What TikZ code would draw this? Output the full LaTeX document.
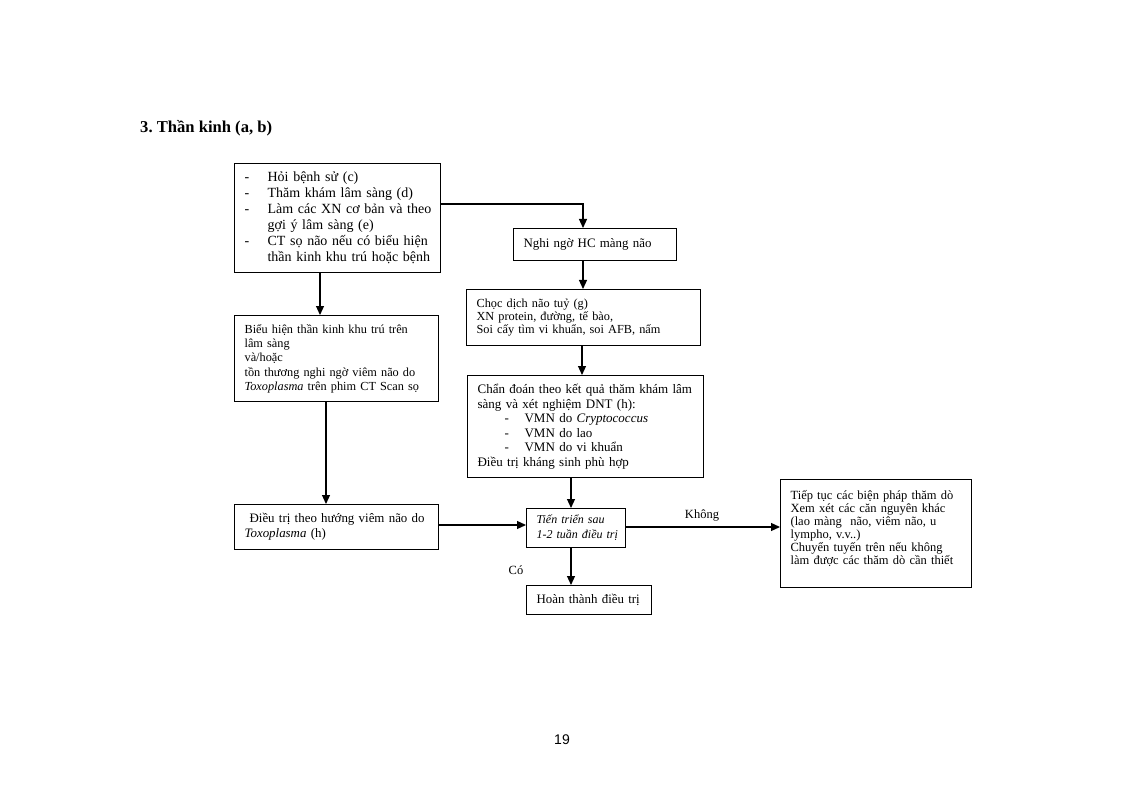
\documentclass[tikz,border=0pt]{standalone}
\usepackage{fontspec}
\setmainfont{Liberation Serif}
\newfontfamily\pagenumfont{Liberation Sans}
\usetikzlibrary{arrows.meta,calc}
\frenchspacing
\begin{document}
\begin{tikzpicture}[x=1pt,y=-1pt,
  box/.style={draw, line width=1.2pt, anchor=north west, inner xsep=10pt, inner ysep=0pt, align=left},
  arr/.style={line width=1.2pt, -{Triangle[length=9pt,width=8pt]}},
  lbl/.style={inner sep=0pt, font=\fontsize{12.5}{14}\selectfont}]
\useasboundingbox (0,0) rectangle (1124,794);
\fill[white] (0,0) rectangle (1124,794);

\node[anchor=west, inner sep=0pt, font=\bfseries\fontsize{16.6}{19}\selectfont] (title) at (140,128) {3. Thần kinh (a, b)};

\node[box, text width=186pt, minimum height=109pt, font=\fontsize{14}{16}\selectfont] (A) at (234,163)
{\mbox{\makebox[23pt][l]{-}Hỏi bệnh sử (c)}\\
 \mbox{\makebox[23pt][l]{-}Thăm khám lâm sàng (d)}\\
 \mbox{\makebox[23pt][l]{-}Làm các XN cơ bản và theo}\\
 \mbox{\hspace*{23pt}gợi ý lâm sàng (e)}\\
 \mbox{\makebox[23pt][l]{-}CT sọ não nếu có biểu hiện}\\
 \mbox{\hspace*{23pt}thần kinh khu trú hoặc bệnh}};

\node[box, text width=143pt, minimum height=32pt, font=\fontsize{12.9}{15}\selectfont] (B) at (513,228)
{\mbox{Nghi ngờ HC màng não}};

\node[box, text width=214pt, minimum height=56pt, font=\fontsize{12.3}{13}\selectfont] (C) at (466,289)
{\mbox{Chọc dịch não tuỷ (g)}\\
 \mbox{XN protein, đường, tế bào,}\\
 \mbox{Soi cấy tìm vi khuẩn, soi AFB, nấm}};

\node[box, text width=216pt, minimum height=102pt, font=\fontsize{13}{14.6}\selectfont] (D) at (467,375)
{\mbox{Chẩn đoán theo kết quả thăm khám lâm}\\
 \mbox{sàng và xét nghiệm DNT (h):}\\
 \mbox{\hspace*{27pt}\makebox[20pt][l]{-}VMN do \textit{Cryptococcus}}\\
 \mbox{\hspace*{27pt}\makebox[20pt][l]{-}VMN do lao}\\
 \mbox{\hspace*{27pt}\makebox[20pt][l]{-}VMN do vi khuẩn}\\
 \mbox{Điều trị kháng sinh phù hợp}};

\node[box, text width=184pt, minimum height=86pt, font=\fontsize{12.3}{14.3}\selectfont] (I) at (234,315)
{\mbox{Biểu hiện thần kinh khu trú trên}\\
 \mbox{lâm sàng}\\
 \mbox{và/hoặc}\\
 \mbox{tồn thương nghi ngờ viêm não do}\\
 \mbox{\textit{Toxoplasma} trên phim CT Scan sọ}};

\node[box, text width=184pt, minimum height=45pt, font=\fontsize{12.9}{15}\selectfont] (G) at (234,504)
{\mbox{\hspace*{5pt}Điều trị theo hướng viêm não do}\\
 \mbox{\textit{Toxoplasma} (h)}};

\node[box, text width=79pt, minimum height=39pt, font=\itshape\fontsize{12}{15}\selectfont] (E) at (526,508)
{\mbox{Tiến triển sau}\\
 \mbox{1-2 tuần điều trị}};

\node[box, text width=105pt, minimum height=29pt, font=\fontsize{12.9}{15}\selectfont] (F) at (526,585)
{\mbox{Hoàn thành điều trị}};

\node[box, text width=171pt, minimum height=108pt, font=\fontsize{12.5}{13}\selectfont] (H) at (780,479)
{\mbox{Tiếp tục các biện pháp thăm dò}\\
 \mbox{Xem xét các căn nguyên khác}\\
 \mbox{(lao màng\ \ não, viêm não, u}\\
 \mbox{lympho, v.v..)}\\
 \mbox{Chuyển tuyến trên nếu không}\\
 \mbox{làm được các thăm dò cần thiết\rule[-13pt]{0pt}{13pt}}};

% connectors
\coordinate (Aout) at ($(A.north east)+(0,41)$);
\draw[arr] (Aout) -| ($(B.north west)+(70,0)$);
\draw[arr] ($(B.south west)+(70,0)$) -- ($(C.north west)+(117,0)$);
\draw[arr] ($(C.south west)+(116,0)$) -- ($(D.north west)+(115,0)$);
\draw[arr] ($(D.south west)+(104,0)$) -- ($(E.north west)+(45,0)$);
\draw[arr] ($(E.south west)+(45,0)$) -- ($(F.north west)+(45,0)$);
\draw[arr] ($(A.south west)+(86,0)$) -- ($(I.north west)+(86,0)$);
\draw[arr] ($(I.south west)+(92,0)$) -- ($(G.north west)+(92,0)$);
\draw[arr] ($(G.north east)+(0,21)$) -- ($(E.north west)+(0,17)$);
\draw[arr] ($(E.north east)+(0,19)$) -- ($(H.north west)+(0,48)$);

\node[lbl] (kh) at (702,515) {Không};
\node[lbl] (co) at (516,570) {Có};

\node[inner sep=0pt, font=\pagenumfont\fontsize{14}{16}\selectfont] (pg) at (562,740) {19};
\end{tikzpicture}
\end{document}
